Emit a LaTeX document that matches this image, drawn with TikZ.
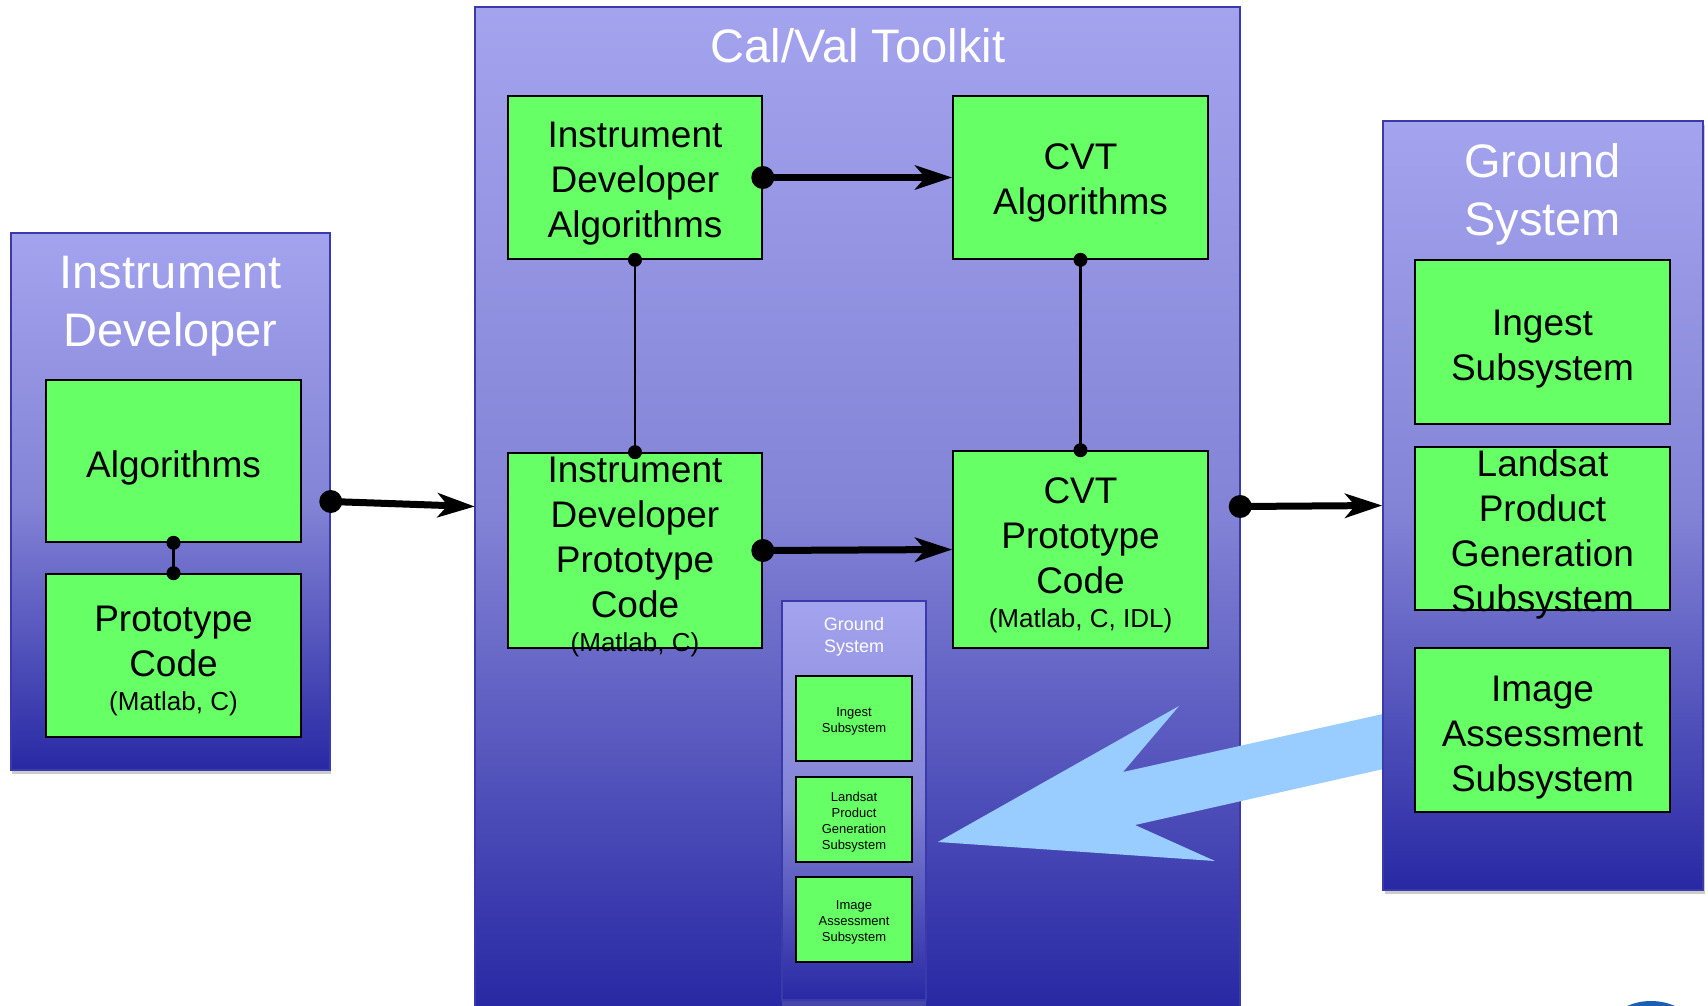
\documentclass[tikz,border=0pt]{standalone}
\usepackage{fontspec}
\setmainfont{Liberation Sans}
\usetikzlibrary{arrows.meta}

\definecolor{boxgreen}{HTML}{66FF66}
\definecolor{paneltop}{HTML}{A3A3EE}
\definecolor{panelmid}{HTML}{8484D7}
\definecolor{panelbot}{HTML}{2828A4}
\definecolor{panelline}{HTML}{3A3AAA}
\definecolor{panelfoot}{HTML}{4545AC}
\definecolor{arrowblue}{HTML}{99CCFF}
\definecolor{logoblue}{HTML}{1A5FB4}

\newcommand\fsTitle{\fontsize{47}{58}\selectfont}
\newcommand\fsBox{\fontsize{37}{45}\selectfont}
\newcommand\fsNote{\fontsize{26}{30}\selectfont}
\newcommand\fsMiniTitle{\fontsize{18}{22}\selectfont}
\newcommand\fsTiny{\fontsize{13}{16}\selectfont}

\begin{document}
\begin{tikzpicture}[x=1pt,y=-1pt,
  panel/.style={rectangle, inner sep=0pt, top color=paneltop, bottom color=panelbot, middle color=panelmid},
  frame/.style={draw=panelline, line width=1.5pt},
  shadowbar/.style={fill=black!20},
  gbox/.style={rectangle, draw=black, line width=1.6pt, fill=boxgreen, inner sep=0pt},
  minibox/.style={rectangle, draw=black, line width=1.3pt, fill=boxgreen, inner sep=0pt,
    minimum width=116, minimum height=85},
  titletext/.style={text=white, align=center, font=\fsTitle, inner sep=0pt},
  boxtext/.style={text=black, align=center, font=\fsBox, inner sep=0pt},
  minititle/.style={text=white, align=center, font=\fsMiniTitle, inner sep=0pt},
  tinytext/.style={text=black, align=center, font=\fsTiny, inner sep=0pt},
  flow/.style={line width=7pt, -{Stealth[length=37pt,width=24pt,inset=10pt]}},
  link/.style={line width=2.5pt},
]

\useasboundingbox (0,0) rectangle (1708,1006);
\clip (0,0) rectangle (1708,1006);

% ---------------- Instrument Developer ----------------
\fill[shadowbar] (12,237) rectangle (331,774);
\node[panel, frame, minimum width=319, minimum height=537] (dev) at (170.5,501.5) {};
\node[titletext] (dev-title) at (170.5,306) {Instrument\\Developer};
\node[gbox, minimum width=255, minimum height=162] (dev-alg) at (173.5,461) {};
\node[boxtext] (dev-alg-t) at (173.5,467.5) {Algorithms};
\node[gbox, minimum width=255, minimum height=163] (dev-proto) at (173.5,655.5) {};
\node[boxtext] (dev-proto-t) at (173.5,661) {Prototype\\Code\\[-11pt]{\fsNote (Matlab, C)}};

% ---------------- Cal/Val Toolkit ----------------
\node[panel, minimum width=765, minimum height=999] (cvt) at (857.5,506.5) {};
\draw[frame] (cvt.south west) -- (cvt.north west) -- (cvt.north east) -- (cvt.south east);
\node[titletext] (cvt-title) at (858,46) {Cal/Val Toolkit};

\node[gbox, minimum width=254, minimum height=163] (ida) at (635,177.5) {};
\node[boxtext] (ida-t) at (635,184) {Instrument\\Developer\\Algorithms};
\node[gbox, minimum width=255, minimum height=163] (cva) at (1080.5,177.5) {};
\node[boxtext] (cva-t) at (1080.5,182.5) {CVT\\Algorithms};
\node[gbox, minimum width=254, minimum height=195] (idp) at (635,550.5) {};
\node[boxtext] (idp-t) at (635,557) {Instrument\\Developer\\Prototype\\Code\\[-11pt]{\fsNote (Matlab, C)}};
\node[gbox, minimum width=255, minimum height=197] (cvp) at (1080.5,549.5) {};
\node[boxtext] (cvp-t) at (1080.5,555) {CVT\\Prototype\\Code\\[-11pt]{\fsNote (Matlab, C, IDL)}};

% small copy of the ground system inside the toolkit
\fill[panelfoot] (782,1000) rectangle (926,1006);
\node[panel, frame, minimum width=144, minimum height=399] (mini) at (854,800.5) {};
\node[minititle] (mini-title) at (854,637) {Ground\\System};
\node[minibox] (mini-ing) at (854,718.5) {};
\node[tinytext] (mini-ing-t) at (854,721.5) {Ingest\\Subsystem};
\node[minibox] (mini-lpg) at (854,819.5) {};
\node[tinytext] (mini-lpg-t) at (854,822.5) {Landsat\\Product\\Generation\\Subsystem};
\node[minibox] (mini-ias) at (854,919.5) {};
\node[tinytext] (mini-ias-t) at (854,922.5) {Image\\Assessment\\Subsystem};

% big feedback arrow from the ground system back into the toolkit
\fill[arrowblue] (938,842) -- (1179,706) -- (1123,772) -- (1450,699)
  -- (1450,754) -- (1135,825) -- (1215,861) -- cycle;

% ---------------- Ground System ----------------
\fill[shadowbar] (1385,125) rectangle (1705,894);
\node[panel, frame, minimum width=320, minimum height=769] (gs) at (1543,505.5) {};
\node[titletext] (gs-title) at (1542.5,194) {Ground\\System};
\node[gbox, minimum width=255, minimum height=164] (gs-ing) at (1542.5,342) {};
\node[boxtext] (gs-ing-t) at (1542.5,349.5) {Ingest\\Subsystem};
\node[gbox, minimum width=255, minimum height=163] (gs-lpg) at (1542.5,528.5) {};
\node[boxtext] (gs-lpg-t) at (1542.5,534) {Landsat\\Product\\Generation\\Subsystem};
\node[gbox, minimum width=255, minimum height=164] (gs-ias) at (1542.5,730) {};
\node[boxtext] (gs-ias-t) at (1542.5,737.5) {Image\\Assessment\\Subsystem};

% ---------------- connectors ----------------
\draw[link] (dev-alg.south) -- (dev-proto.north);
\fill (dev-alg.south) circle (7);
\fill (dev-proto.north) circle (7);

\draw[link] (ida.south) -- (idp.north);
\fill (ida.south) circle (7);
\fill (idp.north) circle (7);
\draw[link] (cva.south) -- (cvp.north);
\fill (cva.south) circle (7);
\fill (cvp.north) circle (7);

\draw[flow] (dev.east) -- (cvt.west);
\fill (dev.east) circle (11.5);
\draw[flow] (ida.east) -- (cva.west);
\fill (ida.east) circle (11.5);
\draw[flow] (idp.east) -- (cvp.west);
\fill (idp.east) circle (11.5);
\draw[flow] (cvt.east) -- (gs.west);
\fill (cvt.east) circle (11.5);

% emblem peeking in at the lower right corner
\fill[logoblue] (1651,1061) circle (60);
\end{tikzpicture}
\end{document}
